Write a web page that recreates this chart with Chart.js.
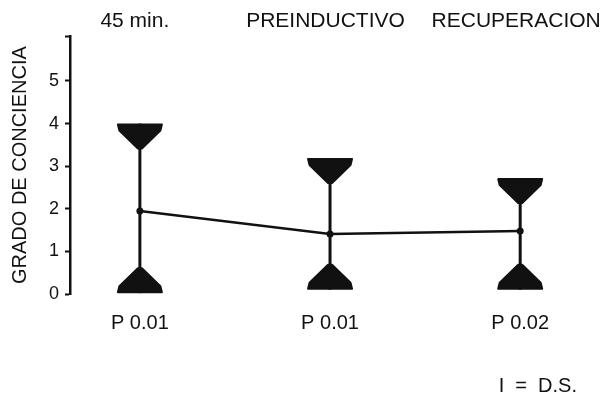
<!DOCTYPE html>
<html>
<head>
<meta charset="utf-8">
<script src="https://cdn.jsdelivr.net/npm/chart.js@4.4.1/dist/chart.umd.min.js"></script>
<style>
  html, body { margin: 0; padding: 0; background: #fff; }
  #wrap { width: 605px; height: 400px; }
</style>
</head>
<body>
<div id="wrap"><canvas id="chart"></canvas></div>
<script>
// periods (top labels), p-values (bottom labels), mean and +/- SD ends
const periods = ['45 min.', 'PREINDUCTIVO', 'RECUPERACION'];
const pValues = ['P 0.01', 'P 0.01', 'P 0.02'];
const means = [1.95, 1.41, 1.48];
const upperSD = [4.0, 3.19, 2.72];
const lowerSD = [0.02, 0.1, 0.1];
const yTickLabels = [0, 1, 2, 3, 4, 5];
const yMinorTicks = [0.5, 1.5, 2.5, 3.5, 4.5, 5.5];
const legendText = 'I  =  D.S.';

const FONT = "'Liberation Sans', Arial, sans-serif";
const ink = '#111';

// hourglass-like cap: flat base, short side, then straight slope into the stem
function drawCap(ctx, x, base, dir) {
  const hw = 22, side = 6, h = 24;
  ctx.beginPath();
  ctx.moveTo(x - hw, base);
  ctx.lineTo(x + hw, base);
  ctx.lineTo(x + hw - 1.5, base + dir * side);
  ctx.lineTo(x + 2, base + dir * h);
  ctx.lineTo(x - 2, base + dir * h);
  ctx.lineTo(x - hw + 1.5, base + dir * side);
  ctx.closePath();
  ctx.fill();
  ctx.stroke();
}

const errorBars = {
  id: 'errorBars',
  afterDatasetsDraw(chart) {
    const ctx = chart.ctx;
    const xs = chart.scales.x, ys = chart.scales.y;
    ctx.save();
    ctx.fillStyle = ink;
    ctx.strokeStyle = ink;
    ctx.lineJoin = 'round';
    means.forEach((m, i) => {
      const x = xs.getPixelForValue(i);
      const yHi = ys.getPixelForValue(upperSD[i]);
      const yLo = ys.getPixelForValue(lowerSD[i]);
      ctx.lineWidth = 3;
      ctx.beginPath();
      ctx.moveTo(x, yHi);
      ctx.lineTo(x, yLo);
      ctx.stroke();
      ctx.lineWidth = 2;
      drawCap(ctx, x, yHi + 1, 1);
      drawCap(ctx, x, yLo - 1, -1);
    });
    ctx.restore();
  },
  afterDraw(chart) {
    const ctx = chart.ctx;
    ctx.save();
    ctx.fillStyle = ink;
    ctx.font = '20px ' + FONT;
    ctx.textAlign = 'right';
    ctx.textBaseline = 'middle';
    ctx.fillText(legendText, chart.width - 28, 386);
    ctx.restore();
  }
};

new Chart(document.getElementById('chart'), {
  type: 'line',
  data: {
    datasets: [{
      data: means.map((m, i) => ({ x: i, y: m })),
      xAxisID: 'x',
      borderColor: ink,
      borderWidth: 2.5,
      pointRadius: 3.5,
      pointBackgroundColor: ink,
      pointBorderWidth: 0,
      tension: 0
    }]
  },
  options: {
    responsive: true,
    maintainAspectRatio: false,
    animation: false,
    layout: { padding: { top: 7, left: 8, right: 3, bottom: 48 } },
    plugins: { legend: { display: false }, tooltip: { enabled: false } },
    scales: {
      x: {
        type: 'linear',
        position: 'bottom',
        min: -0.3675,
        max: 2.425,
        afterBuildTicks: s => { s.ticks = pValues.map((_, i) => ({ value: i })); },
        ticks: {
          callback: v => pValues[v],
          font: { family: FONT, size: 20 },
          color: ink,
          padding: 17,
          maxRotation: 0,
          autoSkip: false
        },
        grid: { display: false, drawTicks: false },
        border: { display: false }
      },
      xTop: {
        type: 'linear',
        position: 'top',
        min: -0.34,
        max: 2.445,
        afterBuildTicks: s => { s.ticks = periods.map((_, i) => ({ value: i })); },
        ticks: {
          callback: v => periods[v],
          font: { family: FONT, size: 21 },
          color: ink,
          padding: 2,
          maxRotation: 0,
          autoSkip: false
        },
        grid: { display: false, drawTicks: false },
        border: { display: false }
      },
      y: {
        min: 0,
        max: 6.05,
        afterBuildTicks: s => {
          s.ticks = yTickLabels.concat(yMinorTicks, [6.05]).sort((a, b) => a - b).map(v => ({ value: v }));
        },
        afterFit: s => { s.width = 62; },
        ticks: {
          callback: v => yTickLabels.includes(v) ? String(v) : '',
          font: { family: FONT, size: 18 },
          color: ink,
          padding: 6
        },
        grid: { drawOnChartArea: false, tickLength: 5, color: ink, tickWidth: 2 },
        border: { color: ink, width: 2.5 },
        title: {
          display: true,
          text: 'GRADO DE CONCIENCIA',
          font: { family: FONT, size: 20 },
          color: ink,
          padding: 0
        }
      }
    }
  },
  plugins: [errorBars]
});
</script>
</body>
</html>
